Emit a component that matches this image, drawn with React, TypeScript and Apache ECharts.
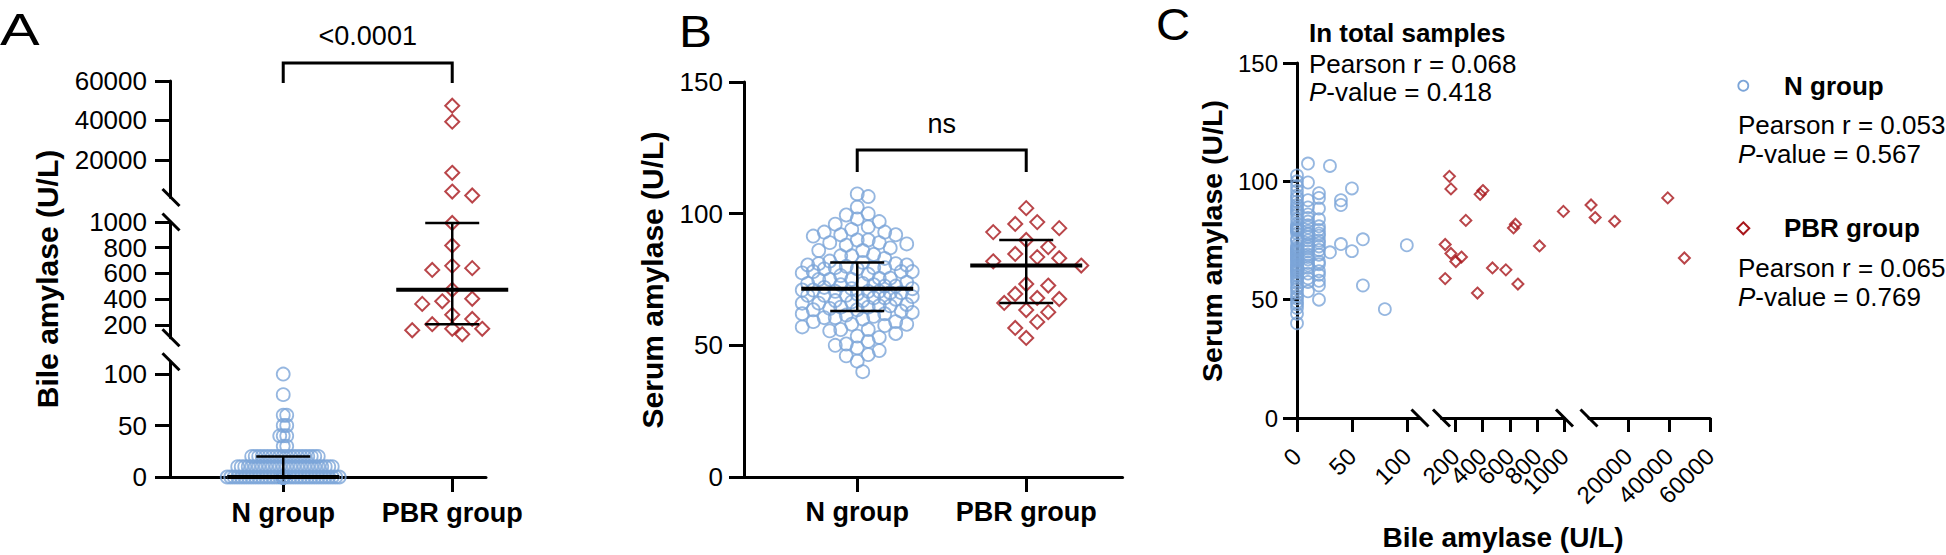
import React, { useEffect, useRef } from 'react';
import * as echarts from 'echarts';

// ---------------- DATA ----------------
const categories = ['N group', 'PBR group'];

// N group: serum amylase values grouped by their bile amylase level
const nBileLevels = [0, 10, 20, 30, 40, 50, 60, 80, 100];
const nSerumByBile: number[][] = [
  [102.5, 100, 98, 96, 94, 93, 91.5, 90, 89, 88, 87, 86, 80.5, 84, 79.5, 82, 81, 80, 79.5, 79, 70.5, 78, 67.5, 64.5, 75.5, 75, 62.5, 73, 72, 71.5, 71, 70, 69.5, 69, 68.5, 68, 67, 66.5, 66, 65, 64, 63.5, 63, 62, 61.5, 60.5, 60, 59, 58, 57, 55.5, 54.5, 53, 51.5, 50.5, 49, 48, 46.5, 44, 40],
  [107.5, 99.5, 92, 86, 83, 80.5, 78, 75, 72.5, 70.5, 69, 65.5, 57.5, 53.5, 89, 84.5, 81.5, 76.5, 73.5, 67, 63.5, 61, 79, 68, 64.5, 71.5, 77.5, 59],
  [95, 93, 88.5, 84, 81, 79.5, 78, 75, 72.5, 71, 69, 65, 62, 60.5, 58, 56, 50, 77, 66, 74],
  [106.5, 70],
  [92, 90, 73.5],
  [97, 70.5],
  [75.5, 56],
  [46],
  [73],
];

// PBR group: paired bile / serum amylase
const pbrBile = [158, 169, 403, 383, 278, 627, 641, 127, 169, 205, 246, 127, 473, 571, 363, 659, 817, 992, 2000, 4000, 13500, 39400, 47500];
const pbrSerum = [102.1, 96.8, 96.1, 94.5, 83.5, 80.3, 81.9, 73.3, 69.5, 66.1, 68.0, 58.9, 63.4, 62.6, 52.8, 56.6, 72.7, 87.3, 90.0, 84.7, 83.1, 93.0, 67.6];

// broken bile-amylase axis segments
const bileSegMin = [0, 100, 1000];
const bileSegMax = [112, 1000, 60000];
const bileSegTicks = [[0, 50, 100], [200, 400, 600, 800, 1000], [20000, 40000, 60000]];
const serumTicks = [0, 50, 100, 150];

const pLabelA = '<0.0001';
const pLabelB = 'ns';
const corrTitles = ['In total samples', 'N group', 'PBR group'];
const pearsonR = ['0.068', '0.053', '0.065'];
const pValues = ['0.418', '0.567', '0.769'];

// ---------------- LAYOUT / STYLE ----------------
const FONT = '"Liberation Sans", Arial, Helvetica, sans-serif';
const BLUE = '#7CA5D8';
const RED = '#A8161B';
const CAT_PX = 169;
const X_MIN = 0.33;

const A_LEFT = 170;
const A_XMAX = 2.2;
const A_SEG = [
  { top: 361.7, height: 115.3 },
  { top: 222, height: 115.7 },
  { top: 81, height: 116.5 },
];
const B_LEFT = 744;
const B_TOP = 82;
const B_HEIGHT = 395;
const B_XMAX = 2.57;
const C_TOP = 63;
const C_HEIGHT = 355;
const C_SEG = [
  { left: 1297, width: 123 },
  { left: 1441.5, width: 123 },
  { left: 1589, width: 121 },
];

const segOf = (v: number) => {
  for (let i = 0; i < 3; i++) if (v >= bileSegMin[i] && v <= bileSegMax[i]) return i;
  return 2;
};
const aPixY = (v: number) => {
  const i = segOf(v);
  const s = A_SEG[i];
  return s.top + s.height - ((v - bileSegMin[i]) / (bileSegMax[i] - bileSegMin[i])) * s.height;
};
const bPixY = (v: number) => B_TOP + B_HEIGHT - (v / 150) * B_HEIGHT;

function quantile(vals: number[], p: number) {
  const s = [...vals].sort((a, b) => a - b);
  const n = s.length;
  const pos = p * (n + 1);
  if (pos <= 1) return s[0];
  if (pos >= n) return s[n - 1];
  const lo = Math.floor(pos);
  const f = pos - lo;
  return s[lo - 1] + f * (s[lo] - s[lo - 1]);
}

// greedy beeswarm: returns horizontal pixel offsets
function swarm(ys: number[], d: number, step: number, maxHalf: number): number[] {
  const order = ys.map((_, i) => i).sort((a, b) => ys[a] - ys[b]);
  const px: number[] = [];
  const py: number[] = [];
  const out = new Array(ys.length).fill(0);
  const maxK = Math.floor(maxHalf / step);
  for (const i of order) {
    const y = ys[i];
    let bestOff = 0;
    let bestScore = -1;
    let done = false;
    for (let k = 0; k <= maxK && !done; k++) {
      const signs = k === 0 ? [1] : [1, -1];
      for (const sg of signs) {
        const off = sg * k * step;
        let minD = Infinity;
        for (let j = 0; j < px.length; j++) {
          const dy = py[j] - y;
          if (Math.abs(dy) >= d) continue;
          const dist = Math.hypot(px[j] - off, dy);
          if (dist < minD) minD = dist;
        }
        if (minD >= d) {
          bestOff = off;
          done = true;
          break;
        }
        if (minD > bestScore + 1e-9) {
          bestScore = minD;
          bestOff = off;
        }
      }
    }
    out[i] = bestOff;
    px.push(bestOff);
    py.push(y);
  }
  return out;
}

const nBile: number[] = [];
const nSerum: number[] = [];
nBileLevels.forEach((b, i) => nSerumByBile[i].forEach((s) => { nBile.push(b); nSerum.push(s); }));

const evens = (a: number[]) => a.filter((_, i) => i % 2 === 0);
const odds = (a: number[]) => a.filter((_, i) => i % 2 === 1);

export default function App() {
  const ref = useRef<HTMLDivElement>(null);
  useEffect(() => {
    if (!ref.current) return;
    const chart = echarts.init(ref.current, undefined, { renderer: 'svg' });

    const circleStyle = { color: 'rgba(255,255,255,0)', borderColor: BLUE, borderWidth: 1.8 };
    const diamondStyle = { color: 'rgba(255,255,255,0)', borderColor: RED, borderWidth: 2 };

    const axisLine = { show: true, onZero: false, lineStyle: { color: '#000', width: 3 } };
    const noLine = { show: false, onZero: false };
    const tick = (vals: number[], len = 15) => ({ show: true, length: len, customValues: vals, lineStyle: { color: '#000', width: 3 } });
    const label = (vals: number[], size: number, margin: number, extra: any = {}) => ({
      show: true, customValues: vals, fontSize: size, lineHeight: Math.round(size * 0.85), color: '#000', fontFamily: FONT, margin,
      showMinLabel: true, showMaxLabel: true, hideOverlap: false,
      formatter: (v: number) => String(v), ...extra,
    });
    const catLabel = (margin: number) => label([1, 2], 27, margin, {
      fontWeight: 'bold',
      formatter: (v: number) => categories[Math.round(v) - 1] || '',
    });

    const grids: any[] = [];
    const xAxes: any[] = [];
    const yAxes: any[] = [];
    const extraX: any[] = [];
    const extraY: any[] = [];
    const series: any[] = [];

    // ---------- Panel A ----------
    const aNOff = swarm(nBile.map(aPixY), 3.5, 3.5, 56);
    const aPOff = swarm(pbrBile.map(aPixY), 14, 10, 56);
    for (let i = 0; i < 3; i++) {
      grids.push({ left: A_LEFT, top: A_SEG[i].top, width: (A_XMAX - X_MIN) * CAT_PX, height: A_SEG[i].height, containLabel: false, outerBoundsMode: 'none' });
      xAxes.push(i === 0
        ? { type: 'value', gridIndex: i, min: X_MIN, max: A_XMAX, axisLine, axisTick: tick([1, 2]), axisLabel: catLabel(24.5), splitLine: { show: false } }
        : { type: 'value', gridIndex: i, min: X_MIN, max: A_XMAX, show: false, splitLine: { show: false } });
      yAxes.push({ type: 'value', gridIndex: i, min: bileSegMin[i], max: bileSegMax[i], axisLine, axisTick: tick(bileSegTicks[i]),
        axisLabel: label(evens(bileSegTicks[i]), 26, 23), splitLine: { show: false } });
      if (odds(bileSegTicks[i]).length) {
        extraY.push({ type: 'value', gridIndex: i, position: 'left', offset: 0, min: bileSegMin[i], max: bileSegMax[i], axisLine: noLine, axisTick: { show: false },
          axisLabel: label(odds(bileSegTicks[i]), 26, 23), splitLine: { show: false } });
      }
      series.push({
        type: 'scatter', xAxisIndex: i, yAxisIndex: i, symbol: 'circle', symbolSize: 13, itemStyle: circleStyle, silent: true,
        data: nBile.map((b, k) => [1 + aNOff[k] / CAT_PX, b]).filter((p) => segOf(p[1]) === i),
      });
      series.push({
        type: 'scatter', xAxisIndex: i, yAxisIndex: i, symbol: 'diamond', symbolSize: 14, itemStyle: diamondStyle, silent: true,
        data: pbrBile.map((b, k) => [2 + aPOff[k] / CAT_PX, b]).filter((p) => segOf(p[1]) === i),
      });
    }

    const errRender = (params: any, api: any) => {
      const x = api.value(0);
      const m = api.coord([x, api.value(1)]);
      const lo = api.coord([x, api.value(2)]);
      const hi = api.coord([x, api.value(3)]);
      const st = (w: number) => ({ stroke: '#000', lineWidth: w });
      return {
        type: 'group',
        children: [
          { type: 'line', shape: { x1: lo[0], y1: lo[1], x2: hi[0], y2: hi[1] }, style: st(2.5) },
          { type: 'line', shape: { x1: lo[0] - 27, y1: lo[1], x2: lo[0] + 27, y2: lo[1] }, style: st(2.5) },
          { type: 'line', shape: { x1: hi[0] - 27, y1: hi[1], x2: hi[0] + 27, y2: hi[1] }, style: st(2.5) },
          { type: 'line', shape: { x1: m[0] - 56, y1: m[1], x2: m[0] + 56, y2: m[1] }, style: st(4) },
        ],
      };
    };
    const errSeries = (axisIdx: number, x: number, vals: number[]) => ({
      type: 'custom', xAxisIndex: axisIdx, yAxisIndex: axisIdx, silent: true, z: 10, renderItem: errRender,
      encode: { x: 0, y: [1, 2, 3] },
      data: [[x, quantile(vals, 0.5), quantile(vals, 0.25), quantile(vals, 0.75)]],
    });
    series.push(errSeries(segOf(quantile(nBile, 0.5)), 1, nBile));
    series.push(errSeries(segOf(quantile(pbrBile, 0.5)), 2, pbrBile));

    // ---------- Panel B ----------
    const bNOff = swarm(nSerum.map(bPixY), 11, 5.5, 56);
    const bPOff = swarm(pbrSerum.map(bPixY), 14, 11, 56);
    grids.push({ left: B_LEFT, top: B_TOP, width: (B_XMAX - X_MIN) * CAT_PX, height: B_HEIGHT, containLabel: false, outerBoundsMode: 'none' });
    xAxes.push({ type: 'value', gridIndex: 3, min: X_MIN, max: B_XMAX, axisLine, axisTick: tick([1, 2]), axisLabel: catLabel(23), splitLine: { show: false } });
    yAxes.push({ type: 'value', gridIndex: 3, min: 0, max: 150, interval: 50, axisLine, axisTick: tick(serumTicks), axisLabel: label(serumTicks, 26, 21), splitLine: { show: false } });
    series.push({ type: 'scatter', xAxisIndex: 3, yAxisIndex: 3, symbol: 'circle', symbolSize: 13, itemStyle: circleStyle, silent: true,
      data: nSerum.map((s, k) => [1 + bNOff[k] / CAT_PX, s]) });
    series.push({ type: 'scatter', xAxisIndex: 3, yAxisIndex: 3, symbol: 'diamond', symbolSize: 14, itemStyle: diamondStyle, silent: true,
      data: pbrSerum.map((s, k) => [2 + bPOff[k] / CAT_PX, s]) });
    series.push(errSeries(3, 1, nSerum));
    series.push(errSeries(3, 2, pbrSerum));

    // ---------- Panel C ----------
    for (let i = 0; i < 3; i++) {
      const gi = 4 + i;
      grids.push({ left: C_SEG[i].left, top: C_TOP, width: C_SEG[i].width, height: C_HEIGHT, containLabel: false, outerBoundsMode: 'none' });
      xAxes.push({ type: 'value', gridIndex: gi, position: 'bottom', min: bileSegMin[i], max: bileSegMax[i], axisLine, axisTick: tick(bileSegTicks[i], 14),
        axisLabel: label(evens(bileSegTicks[i]), 24, 34, { rotate: 45 }), splitLine: { show: false } });
      if (odds(bileSegTicks[i]).length) {
        extraX.push({ type: 'value', gridIndex: gi, position: 'bottom', offset: 0, min: bileSegMin[i], max: bileSegMax[i], axisLine: noLine, axisTick: { show: false },
          axisLabel: label(odds(bileSegTicks[i]), 24, 34, { rotate: 45 }), splitLine: { show: false } });
      }
      yAxes.push(i === 0
        ? { type: 'value', gridIndex: gi, min: 0, max: 150, interval: 50, axisLine, axisTick: tick(serumTicks, 14), axisLabel: label(serumTicks, 24, 19), splitLine: { show: false } }
        : { type: 'value', gridIndex: gi, min: 0, max: 150, show: false, splitLine: { show: false } });
      series.push({ type: 'scatter', xAxisIndex: gi, yAxisIndex: gi, symbol: 'circle', symbolSize: 12, itemStyle: circleStyle, silent: true, clip: false,
        data: nBile.map((b, k) => [b, nSerum[k]]).filter((p) => segOf(p[0]) === i) });
      series.push({ type: 'scatter', xAxisIndex: gi, yAxisIndex: gi, symbol: 'diamond', symbolSize: 11, itemStyle: diamondStyle, silent: true, clip: false,
        data: pbrBile.map((b, k) => [b, pbrSerum[k]]).filter((p) => segOf(p[0]) === i) });
    }

    // ---------- graphics ----------
    const txt = (text: string, x: number, y: number, size: number, extra: any = {}, elExtra: any = {}) => ({
      type: 'text', x, y, z: 100, silent: true, ...elExtra,
      style: { text, fontSize: size, fontFamily: FONT, fill: '#000', align: 'left', verticalAlign: 'middle', ...extra },
    });
    const pval = (v: string, x: number, y: number) => txt(`{i|P}-value = ${v}`, x, y, 26, {
      rich: { i: { fontStyle: 'italic', fontSize: 26, fontFamily: FONT, fill: '#000' } },
    });
    const brk = (cx: number, cy: number) => ({ type: 'line', z: 100, silent: true, shape: { x1: cx - 8.5, y1: cy - 8.5, x2: cx + 8.5, y2: cy + 8.5 }, style: { stroke: '#000', lineWidth: 3 } });
    const aX = (c: number) => A_LEFT + (c - X_MIN) * CAT_PX;
    const bX = (c: number) => B_LEFT + (c - X_MIN) * CAT_PX;
    const bracket = (x1: number, x2: number, yTop: number, yBot: number) => ({
      type: 'polyline', z: 100, silent: true, shape: { points: [[x1, yBot], [x1, yTop], [x2, yTop], [x2, yBot]] }, style: { stroke: '#000', lineWidth: 3, fill: 'none' },
    });
    const rot = Math.PI / 2;
    const graphic: any[] = [
      txt('A', 0, 30, 44, {}, { scaleX: 1.35 }),
      txt('B', 679, 31, 45, {}, { scaleX: 1.1 }),
      txt('C', 1156, 24, 45, {}, { scaleX: 1.05 }),
      txt('Bile amylase (U/L)', 47, 279, 30, { fontWeight: 'bold', align: 'center' }, { rotation: rot }),
      txt('Serum amylase (U/L)', 652, 280, 30, { fontWeight: 'bold', align: 'center' }, { rotation: rot }),
      txt('Serum amylase (U/L)', 1212, 241, 28.5, { fontWeight: 'bold', align: 'center' }, { rotation: rot }),
      txt('Bile amylase (U/L)', 1503, 537, 28, { fontWeight: 'bold', align: 'center' }),
      bracket(aX(1), aX(2), 63, 83),
      txt(pLabelA, (aX(1) + aX(2)) / 2, 35.5, 27, { align: 'center' }),
      bracket(bX(1), bX(2), 150, 172),
      txt(pLabelB, (bX(1) + bX(2)) / 2, 123.5, 27, { align: 'center' }),
      brk(A_LEFT + 1, A_SEG[2].top + A_SEG[2].height),
      brk(A_LEFT + 1, A_SEG[1].top),
      brk(A_LEFT + 1, A_SEG[1].top + A_SEG[1].height),
      brk(A_LEFT + 1, A_SEG[0].top),
      brk(C_SEG[0].left + C_SEG[0].width, C_TOP + C_HEIGHT),
      brk(C_SEG[1].left, C_TOP + C_HEIGHT),
      brk(C_SEG[1].left + C_SEG[1].width, C_TOP + C_HEIGHT),
      brk(C_SEG[2].left, C_TOP + C_HEIGHT),
      txt(corrTitles[0], 1309, 32.5, 26, { fontWeight: 'bold' }),
      txt(`Pearson r = ${pearsonR[0]}`, 1309, 63.5, 26),
      pval(pValues[0], 1309, 91.7),
      { type: 'circle', z: 100, silent: true, shape: { cx: 1743.3, cy: 85.7, r: 5 }, style: { fill: 'none', stroke: BLUE, lineWidth: 1.8 } },
      txt(corrTitles[1], 1784, 86, 26, { fontWeight: 'bold' }),
      txt(`Pearson r = ${pearsonR[1]}`, 1738, 124.7, 26),
      pval(pValues[1], 1738, 153.8),
      { type: 'polygon', z: 100, silent: true, shape: { points: [[1743.3, 222.3], [1749.3, 228.3], [1743.3, 234.3], [1737.3, 228.3]] }, style: { fill: 'none', stroke: RED, lineWidth: 2 } },
      txt(corrTitles[2], 1784, 228.3, 26, { fontWeight: 'bold' }),
      txt(`Pearson r = ${pearsonR[2]}`, 1738, 268, 26),
      pval(pValues[2], 1738, 297),
    ];

    chart.setOption({
      animation: false,
      backgroundColor: '#fff',
      textStyle: { fontFamily: FONT },
      grid: grids,
      xAxis: [...xAxes, ...extraX],
      yAxis: [...yAxes, ...extraY],
      series,
      graphic,
    });
    return () => chart.dispose();
  }, []);
  return <div ref={ref} style={{ position: 'fixed', left: 0, top: 0, width: 1946, height: 555 }} />;
}
